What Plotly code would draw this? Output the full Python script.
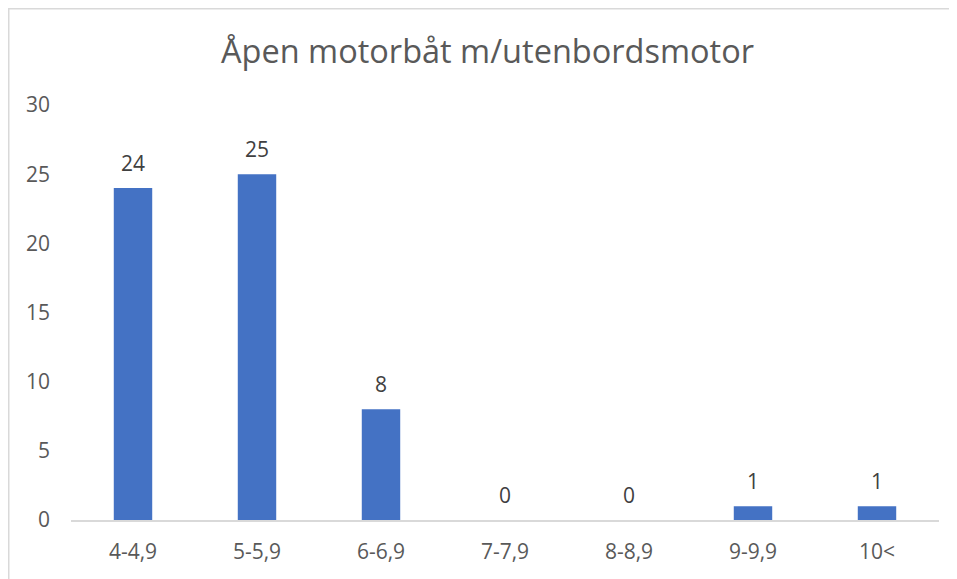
import plotly.graph_objects as go

categories = ["4-4,9", "5-5,9", "6-6,9", "7-7,9", "8-8,9", "9-9,9", "10<"]
values = [24, 25, 8, 0, 0, 1, 1]
y_ticks = [0, 5, 10, 15, 20, 25, 30]
title_text = "Åpen motorbåt m/utenbordsmotor"

FONT = "Open Sans, Noto Sans, sans-serif"

fig = go.Figure()
fig.add_trace(go.Bar(
    x=categories, y=values,
    marker=dict(color="#4472C4", line=dict(width=0)),
    cliponaxis=False,
))
for c, v in zip(categories, values):
    fig.add_annotation(x=c, y=v, text=str(v), showarrow=False, yanchor="bottom",
                       yshift=9, font=dict(family=FONT, size=21, color="#404040"))

# page has an 8px body margin; figure sized to fit the window
W, H = 949, 571
L, R, T, B = 63, 18, 97, 59
pw, ph = W - L - R, H - T - B

fig.update_layout(
    width=W, height=H,
    margin=dict(l=L, r=R, t=T, b=B, autoexpand=False),
    paper_bgcolor="white", plot_bgcolor="white",
    bargap=0.69,
    showlegend=False,
    title=dict(text=title_text, x=479.5 / W, xanchor="center", xref="container",
               y=1 - 44 / H, yanchor="middle",
               font=dict(family=FONT, size=32.5, color="#595959")),
    font=dict(family=FONT, color="#595959"),
    shapes=[dict(type="rect", xref="paper", yref="paper",
                 x0=(0.75 - L) / pw, x1=(1000 - L) / pw,
                 y0=-(620 - (H - B)) / ph, y1=1 + (T - 0.75) / ph,
                 line=dict(color="#D9D9D9", width=1.5), fillcolor="rgba(0,0,0,0)", layer="below")],
)
fig.update_xaxes(showgrid=False, showline=True, linecolor="#D9D9D9", linewidth=1.5, automargin=False,
                 ticks="", tickfont=dict(family=FONT, size=21, color="#595959"), ticklabelstandoff=12)
fig.update_yaxes(range=[0, 30], tickvals=y_ticks, showgrid=False, showline=False, zeroline=False,
                 automargin=False,
                 ticks="", tickfont=dict(family=FONT, size=21, color="#595959"), ticklabelstandoff=20)

fig.write_html("out.html")
